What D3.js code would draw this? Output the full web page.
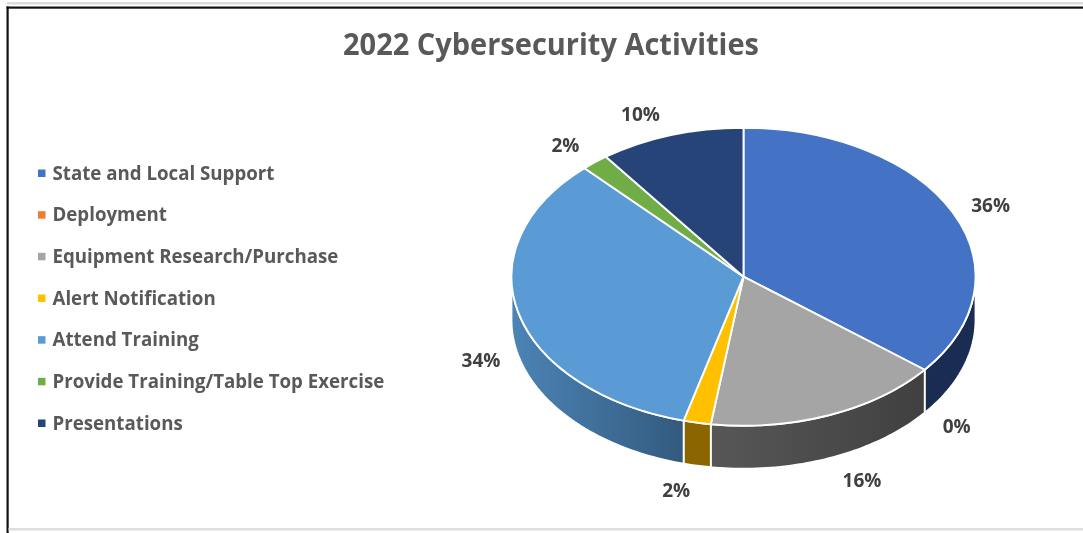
<!DOCTYPE html>
<html><head><meta charset="utf-8">
<script src="https://cdn.jsdelivr.net/npm/d3@7"></script>
<style>html,body{margin:0;padding:0;background:#fff}svg{display:block;filter:blur(0.45px)}text{font-family:"Open Sans",sans-serif}</style>
</head><body><div id="c"></div>
<script>
const chartTitle = "2022 Cybersecurity Activities";
const categories = ["State and Local Support","Deployment","Equipment Research/Purchase","Alert Notification","Attend Training","Provide Training/Table Top Exercise","Presentations"];
const shares = [35.7,0,16.5,1.9,33.8,1.9,10.1];
const shareLabels = ["36%","0%","16%","2%","34%","2%","10%"];
const colors = ["#4472c4","#ed7d31","#a5a5a5","#ffc000","#5b9bd5","#70ad47","#264478"];
const wallFrom = ["#1a2c52","#8c4a1d","#575757","#8a6500","#4c84b6","#436829","#16294a"];
const wallTo   = ["#1a2c52","#8c4a1d","#404040","#8a6500","#335a7e","#436829","#16294a"];
const labelNudge = [[38,-6.5],[32,56.5],[33,65.5],[-21,68],[-37.5,47],[-29.5,-16.5],[-30.5,-20.5]];

const W=1083,H=533,cx=743.5,cy=276.7,rx=232,ry=149,depth=43;
const svg=d3.select("#c").append("svg").attr("width",W).attr("height",H);
const defs=svg.append("defs");

// frame
svg.append("rect").attr("x",7).attr("y",2).attr("width",W-7).attr("height",2.5).attr("fill","#dcdcdc");
svg.append("rect").attr("x",6.5).attr("y",6.5).attr("width",W-6).attr("height",2.2).attr("fill","#111");
svg.append("rect").attr("x",6.5).attr("y",6.5).attr("width",2.2).attr("height",H-6).attr("fill","#111");
svg.append("rect").attr("x",8.5).attr("y",528).attr("width",W-8).attr("height",2.5).attr("fill","#dedede");

svg.append("text").text(chartTitle).attr("x",551).attr("y",55).attr("text-anchor","middle")
  .attr("font-size",31).attr("font-weight",700).attr("fill","#595959")
  .attr("textLength",416).attr("lengthAdjust","spacingAndGlyphs");

// legend
const legendY=d3.scalePoint().domain(categories).range([173,423]);
const lg=svg.append("g").selectAll("g").data(categories).join("g").attr("transform",d=>`translate(0,${legendY(d)})`);
lg.append("rect").attr("x",38).attr("y",-3.5).attr("width",7.5).attr("height",7.5).attr("fill",(d,i)=>colors[i]);
lg.append("text").text(d=>d).attr("x",52.5).attr("y",6.5).attr("font-size",18.7).attr("font-weight",700).attr("fill","#595959");

// pie
const arcs=d3.pie().value(d=>d).sort(null)(shares);
const px=a=>cx+rx*Math.sin(a), py=a=>cy-ry*Math.cos(a);
const wall=d3.area().x(px).y0(py).y1(a=>py(a)+depth);
const front=[Math.PI/2,Math.PI*1.5];

const walls=svg.append("g");
arcs.forEach((s,i)=>{
  const a0=Math.max(s.startAngle,front[0]),a1=Math.min(s.endAngle,front[1]);
  if(a1<=a0) return;
  const g=defs.append("linearGradient").attr("id","w"+i).attr("gradientUnits","userSpaceOnUse")
    .attr("x1",Math.min(px(a0),px(a1))).attr("x2",Math.max(px(a0),px(a1))).attr("y1",0).attr("y2",0);
  g.append("stop").attr("offset",0).attr("stop-color",wallFrom[i]);
  g.append("stop").attr("offset",1).attr("stop-color",wallTo[i]);
  const n=Math.max(2,Math.ceil((a1-a0)/0.02));
  const samples=d3.range(n+1).map(k=>a0+(a1-a0)*k/n);
  walls.append("path").attr("d",wall(samples)).attr("fill",`url(#w${i})`)
    .attr("stroke","#fff").attr("stroke-width",1.8).attr("stroke-linejoin","round");
});

const arc=d3.arc().innerRadius(0).outerRadius(rx);
svg.append("g").attr("transform",`translate(${cx},${cy}) scale(1,${ry/rx})`)
  .selectAll("path").data(arcs.filter(d=>d.value>0)).join("path")
  .attr("d",arc).attr("fill",d=>colors[d.index])
  .attr("stroke","#fff").attr("stroke-width",1.9).attr("vector-effect","non-scaling-stroke").attr("stroke-linejoin","round");

// data labels
svg.append("g").selectAll("text").data(arcs).join("text")
  .text(d=>shareLabels[d.index])
  .attr("x",d=>px((d.startAngle+d.endAngle)/2)+labelNudge[d.index][0])
  .attr("y",d=>py((d.startAngle+d.endAngle)/2)+labelNudge[d.index][1]+6.5)
  .attr("text-anchor","middle").attr("font-size",19).attr("font-weight",700).attr("fill","#404040");
</script></body></html>
